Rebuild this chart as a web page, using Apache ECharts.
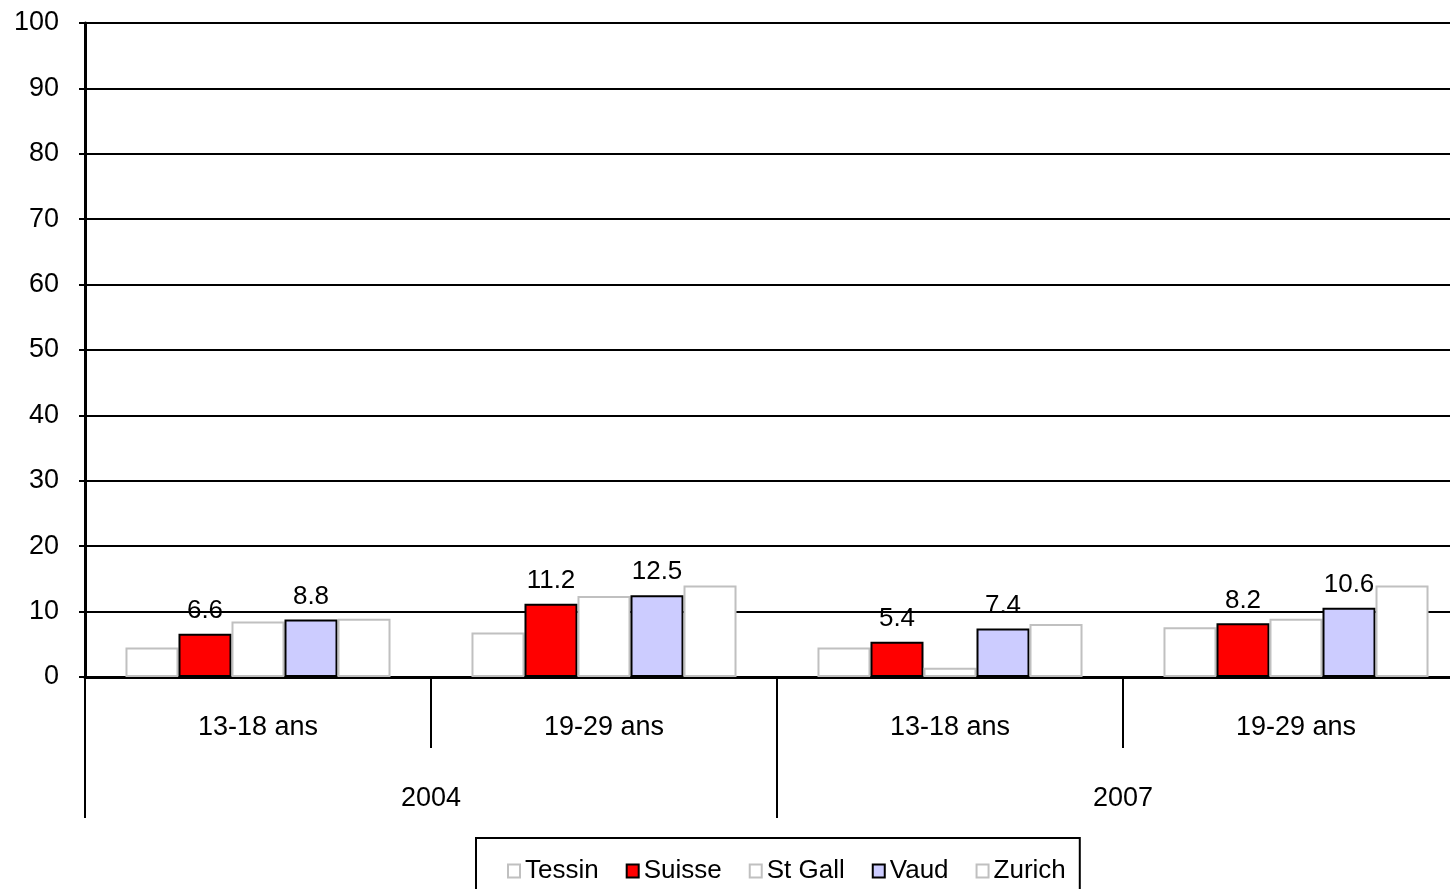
<!DOCTYPE html>
<html>
<head>
<meta charset="utf-8">
<script src="https://cdn.jsdelivr.net/npm/echarts@6/dist/echarts.min.js"></script>
<style>html,body{margin:0;padding:0;background:#fff;overflow:hidden;width:1450px;height:889px;}#c{width:1469px;height:889px;}</style>
</head>
<body>
<div id="c"></div>
<script>
const ageGroups = ['13-18 ans', '19-29 ans', '13-18 ans', '19-29 ans'];
const years = ['2004', '2007'];
const yTicks = [0, 100, 10];
const tessin = [4.5, 6.8, 4.5, 7.6];
const suisse = [6.6, 11.2, 5.4, 8.2];
const stGall = [8.5, 12.4, 1.4, 8.9];
const vaud = [8.8, 12.5, 7.4, 10.6];
const zurich = [8.9, 14.0, 8.1, 14.0];

const FONT = 'Liberation Sans';
const chart = echarts.init(document.getElementById('c'));

function whiteSeries(name, data) {
  return {
    name, type: 'bar', data, barGap: '0%', barCategoryGap: '23.4%',
    itemStyle: { color: '#ffffff', borderColor: '#c0c0c0', borderWidth: 2 }
  };
}
function labeledSeries(name, data, color) {
  return {
    name, type: 'bar', data, barGap: '0%', barCategoryGap: '23.4%',
    itemStyle: { color, borderColor: '#000000', borderWidth: 2 },
    label: { show: true, position: 'top', distance: 10, color: '#000', fontSize: 26, fontFamily: FONT,
      formatter: p => p.value.toFixed(1) }
  };
}

chart.setOption({
  animation: false,
  backgroundColor: '#fff',
  grid: { left: 85, right: 0, top: 23, bottom: 212, containLabel: false },
  legend: {
    left: 476, top: 838,
    borderColor: '#000', borderWidth: 2,
    padding: [20, 14, 30, 31],
    itemWidth: 12, itemHeight: 13, itemGap: 27,
    icon: 'rect',
    textStyle: { fontSize: 26, fontFamily: FONT, color: '#000', padding: [0, 0, 0, 0] },
    data: ['Tessin', 'Suisse', 'St Gall', 'Vaud', 'Zurich']
  },
  xAxis: [
    {
      type: 'category', data: ageGroups, position: 'bottom',
      axisLine: { show: true, lineStyle: { color: '#000', width: 3 } },
      axisTick: { show: true, interval: 0, length: 71, lineStyle: { color: '#000', width: 2 } },
      axisLabel: { interval: 0, margin: 37, fontSize: 27, fontFamily: FONT, color: '#000' },
      splitLine: { show: false }
    },
    {
      type: 'category', data: years, position: 'bottom', gridIndex: 0,
      axisLine: { show: false },
      axisTick: { show: true, interval: 0, length: 141, lineStyle: { color: '#000', width: 2 } },
      axisLabel: { interval: 0, margin: 108, fontSize: 27, fontFamily: FONT, color: '#000' },
      splitLine: { show: false }
    }
  ],
  yAxis: {
    type: 'value', min: yTicks[0], max: yTicks[1], interval: yTicks[2],
    axisLine: { show: true, lineStyle: { color: '#000', width: 3 } },
    axisTick: { show: true, length: 6, lineStyle: { color: '#000', width: 2 } },
    axisLabel: { fontSize: 27, fontFamily: FONT, color: '#000', margin: 26, verticalAlign: 'middle', padding: [6, 0, 0, 0] },
    splitLine: { show: true, lineStyle: { color: '#000', width: 2 } }
  },
  series: [
    whiteSeries('Tessin', tessin),
    labeledSeries('Suisse', suisse, '#ff0000'),
    whiteSeries('St Gall', stGall),
    labeledSeries('Vaud', vaud, '#ccccff'),
    whiteSeries('Zurich', zurich)
  ]
});
</script>
</body>
</html>
